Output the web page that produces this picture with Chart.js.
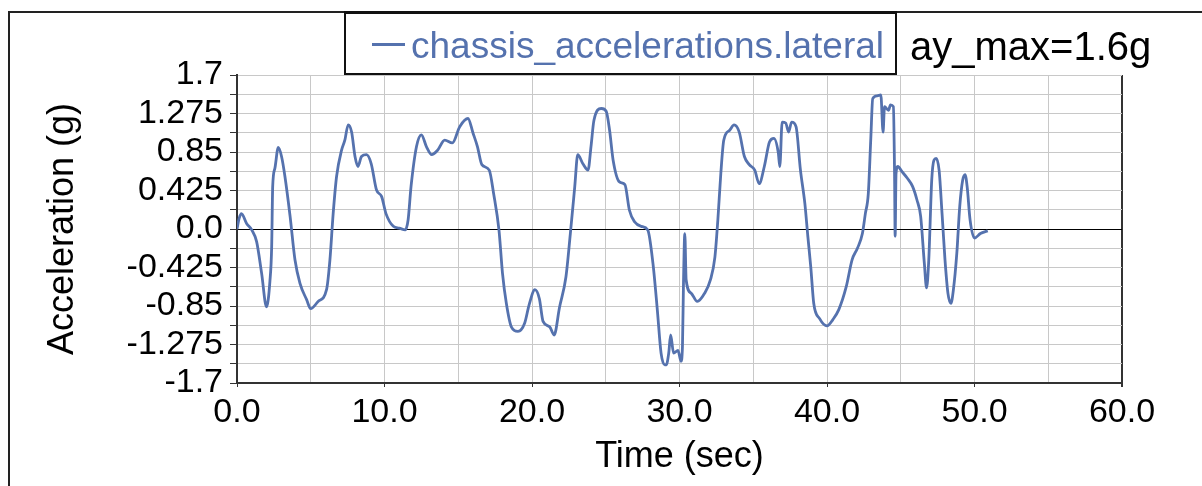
<!DOCTYPE html>
<html>
<head>
<meta charset="utf-8">
<script src="https://cdn.jsdelivr.net/npm/chart.js@4.4.1/dist/chart.umd.min.js"></script>
<style>
  body { margin: 0; background: #fff; }
  #wrap { position: relative; width: 1202px; height: 486px; overflow: hidden; font-family: "Liberation Sans", Arial, sans-serif; }
  #frame { position: absolute; left: 8px; top: 11px; width: 1200px; height: 480px; border-left: 2px solid #222; border-top: 2px solid #222; }
  #legendBox { position: absolute; left: 344px; top: 11px; width: 549px; height: 59px; border: 2px solid #111; border-top-width: 3px; background: #fff; }
  #legendLine { position: absolute; left: 372px; top: 43px; width: 33px; height: 3px; background: #5572ae; }
  #legendText { position: absolute; left: 411px; top: 27px; font-size: 37px; line-height: 37px; color: #5572ae; white-space: nowrap; }
  #noteText { position: absolute; left: 910px; top: 26px; font-size: 40px; line-height: 40px; color: #000; white-space: nowrap; }
  canvas { position: absolute; left: 0; top: 0; }
</style>
</head>
<body>
<div id="wrap">
  <canvas id="accChart" width="1202" height="486"></canvas>
  <div id="frame"></div>
  <div id="legendBox"></div>
  <div id="legendLine"></div>
  <div id="legendText">chassis_accelerations.lateral</div>
  <div id="noteText">ay_max=1.6g</div>
</div>
<script>
// lateral acceleration trace (time in sec, accel in g)
const timeSec = [
  0.0, 0.15, 0.3, 0.65, 1.0, 1.33, 1.67, 2.0, 2.23, 2.35, 2.42, 2.57, 2.8, 3.02, 3.25, 3.6, 3.93, 4.27, 4.72, 5.0,
  5.5, 6.07, 6.3, 6.52, 6.75, 7.09, 7.31, 7.54, 7.77, 8.0, 8.2, 8.44, 8.78, 9.1, 9.46, 9.8, 10.1, 10.6, 11.0, 11.4,
  11.6, 11.8, 12.17, 12.5, 12.84, 13.2, 13.6, 14.08, 14.6, 15.1, 15.66, 16.0, 16.3, 16.6, 17.1, 17.4, 17.76, 18.0, 18.26, 18.6,
  19.05, 19.5, 19.8, 20.2, 20.5, 20.75, 21.2, 21.5, 21.87, 22.3, 22.6, 22.9, 23.1, 23.45, 23.8, 24.0, 24.2, 24.7, 25.03, 25.26,
  25.5, 25.93, 26.3, 26.6, 26.95, 27.4, 27.85, 28.2, 28.5, 28.75, 29.0, 29.1, 29.27, 29.4, 29.6, 29.9, 30.1, 30.2, 30.27, 30.36,
  30.45, 30.8, 31.2, 31.7, 32.1, 32.4, 32.6, 32.8, 33.0, 33.4, 33.7, 34.05, 34.4, 34.73, 35.1, 35.4, 35.75, 36.1, 36.4, 36.7,
  36.8, 36.96, 37.2, 37.4, 37.6, 37.9, 38.2, 38.5, 38.7, 38.9, 39.1, 39.5, 40.0, 40.4, 40.8, 41.3, 41.7, 42.07, 42.4, 42.6,
  42.8, 42.97, 43.1, 43.4, 43.65, 43.8, 43.9, 44.17, 44.3, 44.5, 44.58, 44.62, 44.68, 44.8, 45.1, 45.45, 45.8, 46.1, 46.35, 46.6,
  46.75, 46.9, 47.1, 47.25, 47.4, 47.6, 47.8, 48.0, 48.2, 48.4, 48.57, 48.8, 49.0, 49.2, 49.36, 49.5, 49.7, 50.0, 50.4, 50.9
];
const lateralG = [
  0.0, 0.12, 0.17, 0.06, -0.01, -0.14, -0.49, -0.86, -0.58, -0.2, 0.47, 0.67, 0.90, 0.80, 0.58, 0.14, -0.34, -0.60, -0.78, -0.88,
  -0.80, -0.67, -0.34, 0.17, 0.58, 0.87, 0.98, 1.15, 1.07, 0.80, 0.69, 0.80, 0.82, 0.72, 0.43, 0.36, 0.17, 0.03, 0.01, -0.01,
  0.10, 0.47, 0.91, 1.04, 0.91, 0.82, 0.87, 0.98, 0.95, 1.13, 1.22, 1.06, 0.91, 0.71, 0.65, 0.39, -0.01, -0.49, -0.82, -1.08,
  -1.13, -1.04, -0.84, -0.67, -0.77, -1.02, -1.08, -1.17, -0.86, -0.53, -0.05, 0.47, 0.82, 0.72, 0.65, 0.91, 1.20, 1.33, 1.30, 1.09,
  0.76, 0.52, 0.49, 0.21, 0.08, 0.03, -0.01, -0.38, -0.90, -1.37, -1.50, -1.50, -1.37, -1.17, -1.37, -1.34, -1.46, -1.30, -0.60, -0.05,
  -0.56, -0.71, -0.80, -0.71, -0.56, -0.31, 0.10, 0.61, 0.98, 1.09, 1.15, 1.07, 0.80, 0.71, 0.65, 0.50, 0.69, 0.96, 1.00, 0.84,
  0.69, 1.18, 1.17, 1.07, 1.18, 1.13, 0.65, 0.28, -0.08, -0.42, -0.82, -0.99, -1.07, -1.00, -0.89, -0.64, -0.34, -0.21, -0.05, 0.17,
  0.39, 1.00, 1.44, 1.47, 1.48, 1.07, 1.35, 1.31, 1.37, 1.35, 0.61, -0.08, 0.61, 0.69, 0.63, 0.56, 0.47, 0.32, 0.14, -0.38,
  -0.65, -0.34, 0.54, 0.76, 0.78, 0.65, 0.17, -0.34, -0.71, -0.82, -0.67, -0.27, 0.25, 0.54, 0.60, 0.47, 0.10, -0.10, -0.05, -0.02
];

// y grid every 0.2125 g, labelled every other line
const yGridValues = [-1.7, -1.4875, -1.275, -1.0625, -0.85, -0.6375, -0.425, -0.2125, 0,
  0.2125, 0.425, 0.6375, 0.85, 1.0625, 1.275, 1.4875, 1.7];
const yTickLabels = ["-1.7", "", "-1.275", "", "-0.85", "", "-0.425", "", "0.0",
  "", "0.425", "", "0.85", "", "1.275", "", "1.7"];
const xTickLabels = ["0.0", "", "10.0", "", "20.0", "", "30.0", "", "40.0", "", "50.0", "", "60.0"];

const FONT = "'Liberation Sans', Arial, sans-serif";
const points = timeSec.map((t, i) => ({ x: t, y: lateralG[i] }));

new Chart(document.getElementById("accChart"), {
  type: "line",
  data: {
    datasets: [{
      label: "chassis_accelerations.lateral",
      data: points,
      borderColor: "#5572ae",
      borderWidth: 2.8,
      pointRadius: 0,
      cubicInterpolationMode: "monotone",
      fill: false
    }]
  },
  options: {
    responsive: false,
    animation: false,
    layout: { padding: { top: 75, right: 80, bottom: 0, left: 0 } },
    plugins: { legend: { display: false }, tooltip: { enabled: false } },
    scales: {
      x: {
        type: "linear",
        min: 0,
        max: 60,
        afterFit: (s) => { s.height = 103; },
        ticks: {
          stepSize: 5,
          autoSkip: false,
          maxRotation: 0,
          padding: 5,
          color: "#000",
          font: { family: FONT, size: 34 },
          callback: (v, i) => xTickLabels[i]
        },
        grid: {
          color: (c) => (c.tick && c.tick.value === 60 ? "#333" : "#c8c8c8"),
          tickColor: (c) => (c.tick && c.tick.value % 10 === 0 ? "#333" : "rgba(0,0,0,0)"),
          tickLength: 4,
          lineWidth: (c) => (c.tick && c.tick.value === 60 ? 2 : 1)
        },
        border: { color: "#333", width: 2 },
        title: {
          display: true,
          text: "Time (sec)",
          color: "#000",
          font: { family: FONT, size: 36 },
          padding: { top: 0, bottom: 7 }
        }
      },
      y: {
        type: "linear",
        min: -1.7,
        max: 1.7,
        afterFit: (s) => { s.width = 237; },
        afterBuildTicks: (s) => { s.ticks = yGridValues.map((v) => ({ value: v })); },
        ticks: {
          autoSkip: false,
          padding: 7,
          color: "#000",
          font: { family: FONT, size: 34 },
          callback: (v, i) => yTickLabels[i]
        },
        grid: {
          color: (c) => (c.tick && c.tick.value === 0 ? "#000" : "#c8c8c8"),
          tickColor: "#333",
          tickLength: 7
        },
        border: { color: "#333", width: 2 },
        title: {
          display: true,
          text: "Acceleration (g)",
          color: "#000",
          font: { family: FONT, size: 36 },
          padding: { top: 41, bottom: 0 }
        }
      }
    }
  }
});
</script>
</body>
</html>
